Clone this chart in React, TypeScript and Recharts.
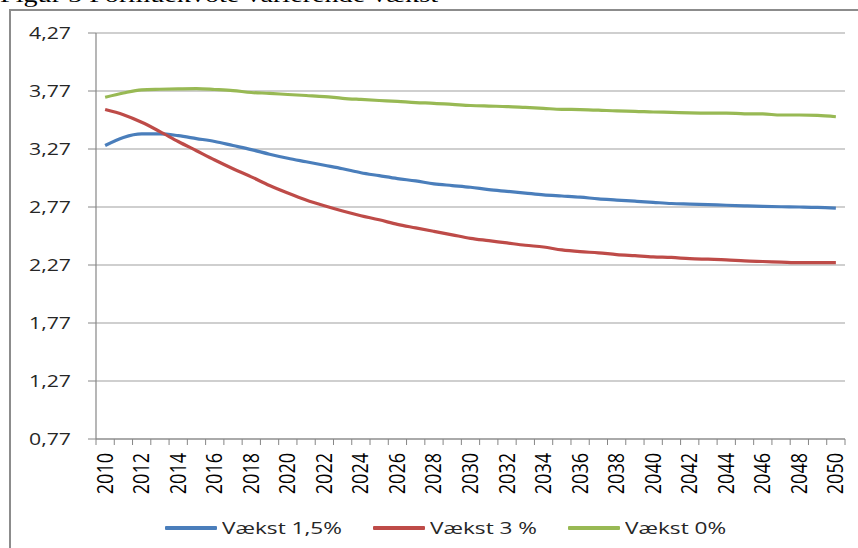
import React from "react";
import { LineChart, Line, XAxis, YAxis, CartesianGrid } from "recharts";

const years = [
  2010, 2011, 2012, 2013, 2014, 2015, 2016, 2017, 2018, 2019, 2020, 2021, 2022, 2023, 2024,
  2025, 2026, 2027, 2028, 2029, 2030, 2031, 2032, 2033, 2034, 2035, 2036, 2037, 2038, 2039,
  2040, 2041, 2042, 2043, 2044, 2045, 2046, 2047, 2048, 2049, 2050,
];

const vaekst15 = [
  3.3, 3.37, 3.4, 3.4, 3.385, 3.36, 3.335, 3.3, 3.265, 3.225, 3.19, 3.16, 3.13, 3.1, 3.065,
  3.04, 3.015, 2.995, 2.97, 2.955, 2.94, 2.92, 2.905, 2.89, 2.875, 2.865, 2.855, 2.84, 2.83,
  2.82, 2.81, 2.8, 2.795, 2.79, 2.785, 2.78, 2.775, 2.772, 2.77, 2.767, 2.76,
];

const vaekst3 = [
  3.61, 3.565, 3.5, 3.42, 3.335, 3.255, 3.175, 3.1, 3.03, 2.955, 2.89, 2.83, 2.78, 2.735, 2.695,
  2.66, 2.62, 2.59, 2.56, 2.53, 2.5, 2.48, 2.46, 2.44, 2.425, 2.4, 2.385, 2.375, 2.36, 2.35,
  2.34, 2.335, 2.325, 2.32, 2.315, 2.305, 2.3, 2.295, 2.29, 2.29, 2.29,
];

const vaekst0 = [
  3.716, 3.753, 3.78, 3.785, 3.788, 3.79, 3.783, 3.774, 3.757, 3.75, 3.74, 3.731, 3.722, 3.707,
  3.697, 3.688, 3.68, 3.67, 3.664, 3.655, 3.645, 3.64, 3.636, 3.628, 3.62, 3.612, 3.61, 3.605,
  3.598, 3.595, 3.589, 3.586, 3.582, 3.58, 3.58, 3.573, 3.572, 3.563, 3.563, 3.56, 3.548,
];

const yTicks = [0.77, 1.27, 1.77, 2.27, 2.77, 3.27, 3.77, 4.27];
const labelYears = years.filter((y) => y % 2 === 0);
const boundaryTicks = years.map((y) => y - 0.5).concat([years[years.length - 1] + 0.5]);
const xTicks = [...boundaryTicks, ...labelYears].sort((a, b) => a - b);

const seriesNames = ["Vækst 1,5%", "Vækst 3 %", "Vækst 0%"];
const seriesColors = ["#4A7EBB", "#BE4B48", "#98B954"];

const title = "Figur 5 Formuekvote varierende vækst";

const data = years.map((year, i) => ({
  year,
  v15: vaekst15[i],
  v3: vaekst3[i],
  v0: vaekst0[i],
}));

const FONT = "'Open Sans', 'DejaVu Sans', sans-serif";
const AXIS_GRAY = "#868686";

const YTick = (props: any) => {
  const { x, y, payload } = props;
  const label = Number(payload.value).toFixed(2).replace(".", ",");
  return (
    <g transform={`translate(${x},${y}) scale(1.25,1)`}>
      <text x={0} y={0} dy="0.36em" textAnchor="end" fontFamily={FONT} fontSize={17} fill="#262626">
        {label}
      </text>
    </g>
  );
};

const XTick = (props: any) => {
  const { x, y, payload } = props;
  const v = Number(payload.value);
  if (!Number.isInteger(v)) {
    return <line x1={x} x2={x} y1={y} y2={y + 6} stroke={AXIS_GRAY} strokeWidth={1} />;
  }
  return (
    <g transform={`translate(${x},${y + 14}) scale(1.16,1) rotate(-90)`}>
      <text x={0} y={0} dy="0.36em" textAnchor="end" fontFamily={FONT} fontSize={18} fill="#000">
        {v}
      </text>
    </g>
  );
};

const legendLefts = [165, 373, 568];

export default function App() {
  return (
    <div
      style={{
        position: "absolute",
        left: 0,
        top: 0,
        width: 858,
        height: 548,
        overflow: "hidden",
        background: "#fff",
      }}
    >
      <div
        style={{
          position: "absolute",
          left: 0,
          top: -16,
          fontFamily: "'Liberation Serif', 'Times New Roman', serif",
          fontSize: 22,
          lineHeight: "22px",
          whiteSpace: "nowrap",
          transform: "scale(1.28,1)",
          transformOrigin: "left top",
          color: "#000",
        }}
      >
        {title}
      </div>
      <div
        style={{
          position: "absolute",
          left: 9,
          top: 9,
          width: 900,
          height: 600,
          borderLeft: "2px solid #8c8c8c",
          borderTop: "2px solid #8c8c8c",
        }}
      />
      <div style={{ position: "absolute", left: 0, top: 0 }}>
        <LineChart
          width={858}
          height={548}
          data={data}
          margin={{ top: 33, right: 13, left: 0, bottom: 49 }}
        >
          <CartesianGrid vertical={false} stroke="#a0a0a0" strokeWidth={1.2} />
          <XAxis
            dataKey="year"
            type="number"
            domain={[2009.5, 2050.5]}
            ticks={xTicks}
            interval={0}
            height={60}
            axisLine={{ stroke: AXIS_GRAY, strokeWidth: 1.2 }}
            tickLine={false}
            tickSize={0}
            tickMargin={0}
            tick={XTick}
          />
          <YAxis
            type="number"
            domain={[0.77, 4.27]}
            ticks={yTicks}
            interval={0}
            width={96}
            axisLine={{ stroke: AXIS_GRAY, strokeWidth: 1.2 }}
            tickLine={{ stroke: AXIS_GRAY }}
            tickSize={8}
            tickMargin={17}
            tick={YTick}
          />
          <Line
            type="monotone"
            dataKey="v15"
            name={seriesNames[0]}
            stroke={seriesColors[0]}
            strokeWidth={3.2}
            dot={false}
            activeDot={false}
            isAnimationActive={false}
          />
          <Line
            type="monotone"
            dataKey="v3"
            name={seriesNames[1]}
            stroke={seriesColors[1]}
            strokeWidth={3.2}
            dot={false}
            activeDot={false}
            isAnimationActive={false}
          />
          <Line
            type="monotone"
            dataKey="v0"
            name={seriesNames[2]}
            stroke={seriesColors[2]}
            strokeWidth={3.2}
            dot={false}
            activeDot={false}
            isAnimationActive={false}
          />
        </LineChart>
      </div>
      {seriesNames.map((name, i) => (
        <div
          key={name}
          style={{
            position: "absolute",
            left: legendLefts[i],
            top: 515,
            height: 26,
            display: "flex",
            alignItems: "center",
          }}
        >
          <span
            style={{
              display: "inline-block",
              width: 52,
              height: 4,
              background: seriesColors[i],
              borderRadius: 1,
            }}
          />
          <span
            style={{
              display: "inline-block",
              marginLeft: 5,
              fontFamily: FONT,
              fontSize: 17,
              lineHeight: "26px",
              whiteSpace: "nowrap",
              transform: "scale(1.33,1)",
              transformOrigin: "left center",
              color: "#262626",
            }}
          >
            {name}
          </span>
        </div>
      ))}
    </div>
  );
}
